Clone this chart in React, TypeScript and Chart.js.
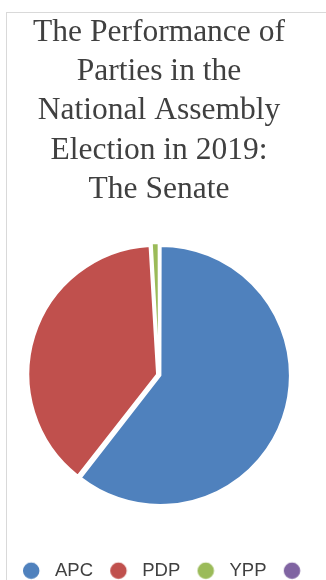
import React, { useEffect, useRef } from 'react';
import { Chart, registerables } from 'chart.js';

Chart.register(...registerables);

const TITLE_LINES = ['The Performance of', 'Parties in the', 'National Assembly', 'Election in 2019:', 'The Senate'];
const PARTIES = ['APC', 'PDP', 'YPP', ''];
const SEATS = [66, 42, 1, 0];
const COLORS = ['#4F81BD', '#C0504D', '#9BBB59', '#8064A2'];

const SANS = "'Liberation Sans', Arial, sans-serif";
const SERIF = "'Liberation Serif', 'Times New Roman', serif";

function makeIcon(color: string): HTMLCanvasElement {
  const c = document.createElement('canvas');
  c.width = 44;
  c.height = 22;
  const ctx = c.getContext('2d')!;
  ctx.beginPath();
  ctx.arc(29.2, 11, 9, 0, Math.PI * 2);
  ctx.fillStyle = color;
  ctx.fill();
  ctx.lineWidth = 1.5;
  ctx.strokeStyle = '#ffffff';
  ctx.stroke();
  return c;
}

export default function App() {
  const ref = useRef<HTMLCanvasElement>(null);

  useEffect(() => {
    const icons = COLORS.map(makeIcon);
    const chart = new Chart(ref.current!, {
      type: 'pie',
      data: {
        labels: PARTIES,
        datasets: [
          {
            data: SEATS,
            backgroundColor: COLORS,
            borderColor: '#ffffff',
            borderWidth: 2,
            offset: [6, 8, 8, 0],
            radius: 128,
          } as any,
        ],
      },
      options: {
        responsive: false,
        animation: false,
        devicePixelRatio: 1,
        events: [],
        layout: { padding: 0 },
        plugins: {
          tooltip: { enabled: false },
          title: {
            display: true,
            text: TITLE_LINES,
            color: '#404040',
            font: { family: SERIF, size: 31.5, weight: 'normal', lineHeight: 1.245 },
            padding: { top: 0, bottom: 6 },
          },
          legend: {
            position: 'bottom',
            align: 'center',
            title: {
              display: true,
              text: '',
              padding: { top: 0, bottom: 15.75 },
              font: { size: 12, lineHeight: 1.2 },
            },
            labels: {
              usePointStyle: true,
              pointStyleWidth: 43.5,
              padding: -3.5,
              color: '#404040',
              font: { family: SANS, size: 18.5 },
              generateLabels: () =>
                PARTIES.map((text, i) => ({
                  text,
                  fillStyle: COLORS[i],
                  strokeStyle: '#ffffff',
                  lineWidth: 0,
                  fontColor: '#404040',
                  pointStyle: icons[i] as any,
                  hidden: false,
                  index: i,
                })),
            },
          },
        },
      } as any,
    });
    return () => chart.destroy();
  }, []);

  return (
    <div
      style={{
        position: 'fixed',
        left: 0,
        top: 0,
        width: 326,
        height: 580,
        overflow: 'hidden',
        background: '#ffffff',
      }}
    >
      <div
        style={{
          position: 'absolute',
          left: 6,
          top: 12,
          width: 400,
          height: 700,
          border: '1px solid #d9d9d9',
          boxSizing: 'border-box',
        }}
      />
      <canvas
        ref={ref}
        width={316}
        height={577}
        style={{ position: 'absolute', left: 1, top: 13, width: 316, height: 577 }}
      />
    </div>
  );
}
